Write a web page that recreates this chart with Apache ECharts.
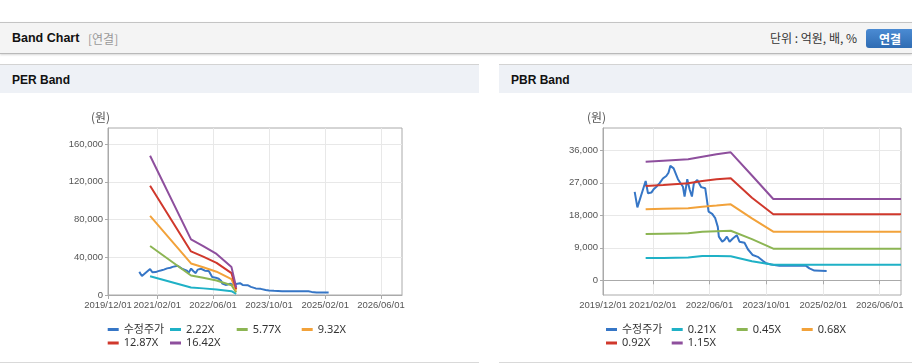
<!DOCTYPE html>
<html><head><meta charset="utf-8">
<script src="https://cdn.jsdelivr.net/npm/echarts@6/dist/echarts.min.js"></script>
<style>
html,body{margin:0;padding:0;background:#fff;width:912px;height:364px;overflow:hidden;font-family:"Liberation Sans","Noto Sans CJK KR",sans-serif;}
.abs{position:absolute;}
#hdr{left:0;top:22px;width:912px;height:30px;background:#f4f4f4;border-top:1px solid #c4c4c4;border-bottom:1px solid #b9b9b9;box-shadow:0 1px 2px #d8d8d8;}
#hdrTitle{left:12px;top:30px;font-size:12.5px;font-weight:bold;color:#111;line-height:16px;}
#hdrSub{left:88px;top:31px;font-size:12px;color:#999;line-height:16px;font-family:"Noto Sans CJK KR",sans-serif;}
#unit{left:770px;top:30px;font-size:12px;color:#333;line-height:16px;font-family:"Noto Sans CJK KR",sans-serif;}
#btn{left:866px;top:29px;width:48px;height:19px;border-radius:3px;background:linear-gradient(#4b8bd3,#2f6cb3);color:#fff;font-weight:bold;font-size:12px;line-height:19px;text-align:center;font-family:"Noto Sans CJK KR",sans-serif;}
.ph{top:64px;height:28px;background:#eef1f6;border-top:1px solid #d3d3d3;}
.pt{top:72px;font-size:12px;font-weight:bold;color:#111;line-height:16px;}
.pb{top:362px;height:0;border-top:1px solid #d9d9d9;}
#chart{left:0;top:0;width:912px;height:364px;}
</style></head>
<body>
<div id="hdr" class="abs"></div>
<div id="hdrTitle" class="abs">Band Chart</div>
<div id="hdrSub" class="abs">[연결]</div>
<div id="unit" class="abs">단위 : 억원, 배, %</div>
<div id="btn" class="abs">연결</div>
<div class="abs ph" style="left:0;width:479px;"></div>
<div class="abs pt" style="left:12px;">PER Band</div>
<div class="abs ph" style="left:499px;width:413px;"></div>
<div class="abs pt" style="left:511px;">PBR Band</div>
<div class="abs pb" style="left:0;width:479px;"></div>
<div class="abs pb" style="left:499px;width:413px;"></div>
<div id="chart" class="abs"></div>
<script>
// ---- data ----
const priceDates = ['2020-08-29','2020-09-21','2020-12-01','2020-12-21','2021-01-19','2021-02-10','2021-03-03','2021-03-31','2021-04-28','2021-05-27','2021-06-15','2021-07-01','2021-07-29','2021-09-04','2021-10-17','2021-10-31','2021-11-23','2021-12-13','2022-01-02','2022-01-19','2022-02-17','2022-03-23','2022-04-26','2022-05-25','2022-06-25','2022-07-21','2022-08-12','2022-08-21','2022-09-19','2022-10-09','2022-10-29','2022-11-21','2022-12-19','2023-01-22','2023-02-14','2023-03-29','2023-04-27','2023-06-08','2023-07-21','2023-09-02','2023-10-01','2023-11-13','2024-01-23','2024-06-14','2024-09-08','2024-10-06','2024-11-18','2025-03-03'];
const priceValues = [24500,20200,27500,24100,24300,25300,25900,26900,28200,28900,29800,31700,31000,28000,25900,23200,28000,25200,23200,26900,27800,25800,25500,19000,18400,17200,14800,12100,10700,11200,12100,10700,11600,12500,10700,10400,8600,7000,6500,5400,4700,4400,4000,4000,4000,3300,2700,2600];

const perBandDates = ['2020-12-01','2021-11-22','2022-03-08','2022-07-02','2022-11-09','2022-12-20'];
const per222 = [19960,7970,7020,5880,4000,1090];
const per577 = [51870,20710,18230,15290,10390,2830];
const per932 = [83800,33460,29450,24700,16780,4570];
const per1287 = [115700,46200,40700,34100,23170,6310];
const per1642 = [147600,58950,51900,43500,29560,8050];

const pbrBandDates = ['2020-12-01','2021-05-01','2021-12-01','2022-04-01','2022-08-01','2022-12-01','2023-06-01','2023-12-01','2026-12-01'];
const pbr021 = [6175,6200,6300,6730,6700,6650,5300,4320,4320];
const pbr045 = [12820,12900,13010,13460,13600,13730,11400,8750,8750];
const pbr068 = [19660,19800,19940,20380,20700,21040,17160,13460,13460];
const pbr092 = [26110,26390,26860,27500,27960,28240,22850,18270,18270];
const pbr115 = [32840,33120,33500,34220,34890,35440,29020,22510,22510];

const xTickDates = ['2019-12-01','2021-02-01','2022-06-01','2023-10-01','2025-02-01','2026-06-01'];
const xTickLabels = ['2019/12/01','2021/02/01','2022/06/01','2023/10/01','2025/02/01','2026/06/01'];
const perYTicks = [0,40000,80000,120000,160000];
const pbrYTicks = [0,9000,18000,27000,36000];
const perNames = ['수정주가','2.22X','5.77X','9.32X','12.87X','16.42X'];
const pbrNames = ['수정주가','0.21X','0.45X','0.68X','0.92X','1.15X'];

// ---- helpers ----
function t(s){const p=s.split('-').map(Number);return Date.UTC(p[0],p[1]-1,p[2]);}
function pairs(ds,vs){return ds.map((d,i)=>[t(d),vs[i]]);}
const xTicks = xTickDates.map(t);
const xMin = t('2019-12-01'), xMax = t('2026-12-01');
const colors = ['#3676c6','#1fb1c6','#8cb553','#f2a23a','#d0382c','#8e4f9d'];
const FONT = '"Liberation Sans","Noto Sans CJK KR",sans-serif';
const fmtNum = v => String(Math.round(v)).replace(/\B(?=(\d{3})+(?!\d))/g, ',');

function xAxis(gi){
  return {type:'value', gridIndex:gi, min:xMin, max:xMax,
    axisLine:{show:true, lineStyle:{color:'#aaaaaa'}},
    axisTick:{show:true, length:4, customValues:xTicks, lineStyle:{color:'#aaaaaa'}},
    splitLine:{show:true, lineStyle:{color:'#e8e8e8'}},
    axisLabel:{customValues:xTicks, margin:6, fontSize:9.5, color:'#555', fontFamily:FONT,
      formatter:v=>{const i=xTicks.indexOf(v);return i>=0?xTickLabels[i]:'';}}
  };
}
function yAxis(gi,min,max,ticks){
  return {type:'value', gridIndex:gi, min:min, max:max,
    axisLine:{show:true, lineStyle:{color:'#aaaaaa'}},
    axisTick:{show:true, length:3, customValues:ticks, lineStyle:{color:'#aaaaaa'}},
    splitLine:{show:true, lineStyle:{color:'#e8e8e8'}},
    axisLabel:{customValues:ticks, margin:5, fontSize:9.5, color:'#555', fontFamily:FONT, formatter:fmtNum}
  };
}
function line(name,gi,data,ci){
  return {type:'line', name:name, xAxisIndex:gi, yAxisIndex:gi, data:data, showSymbol:false, symbol:'none',
    lineStyle:{width:2, color:colors[ci]}, itemStyle:{color:colors[ci]}, animation:false};
}
const series = [
  line(perNames[0],0,pairs(priceDates,priceValues),0),
  line(perNames[1],0,pairs(perBandDates,per222),1),
  line(perNames[2],0,pairs(perBandDates,per577),2),
  line(perNames[3],0,pairs(perBandDates,per932),3),
  line(perNames[4],0,pairs(perBandDates,per1287),4),
  line(perNames[5],0,pairs(perBandDates,per1642),5),
  line(pbrNames[0],1,pairs(priceDates,priceValues),0),
  line(pbrNames[1],1,pairs(pbrBandDates,pbr021),1),
  line(pbrNames[2],1,pairs(pbrBandDates,pbr045),2),
  line(pbrNames[3],1,pairs(pbrBandDates,pbr068),3),
  line(pbrNames[4],1,pairs(pbrBandDates,pbr092),4),
  line(pbrNames[5],1,pairs(pbrBandDates,pbr115),5)
];
const perLegPos = [[107.7,324],[170,324],[236.7,324],[301.7,324],[107.7,337.5],[170,337.5]];
const pbrLegPos = [[606,324],[671.7,324],[736.7,324],[801.7,324],[606,337.5],[671.7,337.5]];
const legends = [];
function addLeg(names,pos){
  names.forEach((n,i)=>{
    legends.push({data:[{name:n, itemStyle:{color:colors[i]}}], left:pos[i][0], top:pos[i][1], padding:0, itemGap:0,
      icon:'rect', itemWidth:11, itemHeight:3, selectedMode:false,
      textStyle:{fontSize:11, color:'#333', fontFamily:'"Noto Sans","Noto Sans CJK KR",sans-serif'}});
  });
}
addLeg(perNames,perLegPos); addLeg(pbrNames,pbrLegPos);

const chart = echarts.init(document.getElementById('chart'), null, {renderer:'canvas'});
chart.setOption({
  animation:false,
  backgroundColor:'transparent',
  grid:[
    {left:108, top:128, width:294, height:167, show:true, borderColor:'#aaaaaa', borderWidth:1, backgroundColor:'transparent'},
    {left:603, top:128, width:298, height:167, show:true, borderColor:'#aaaaaa', borderWidth:1, backgroundColor:'transparent'}
  ],
  xAxis:[xAxis(0), xAxis(1)],
  yAxis:[yAxis(0,0,177000,perYTicks), yAxis(1,-4070,42180,pbrYTicks)],
  legend:legends,
  graphic:[
    {type:'text', left:91, top:111, style:{text:'(원)', font:'12px "Noto Sans CJK KR",sans-serif', fill:'#555'}},
    {type:'text', left:587, top:111, style:{text:'(원)', font:'12px "Noto Sans CJK KR",sans-serif', fill:'#555'}}
  ],
  series:series
});
</script>
</body></html>
